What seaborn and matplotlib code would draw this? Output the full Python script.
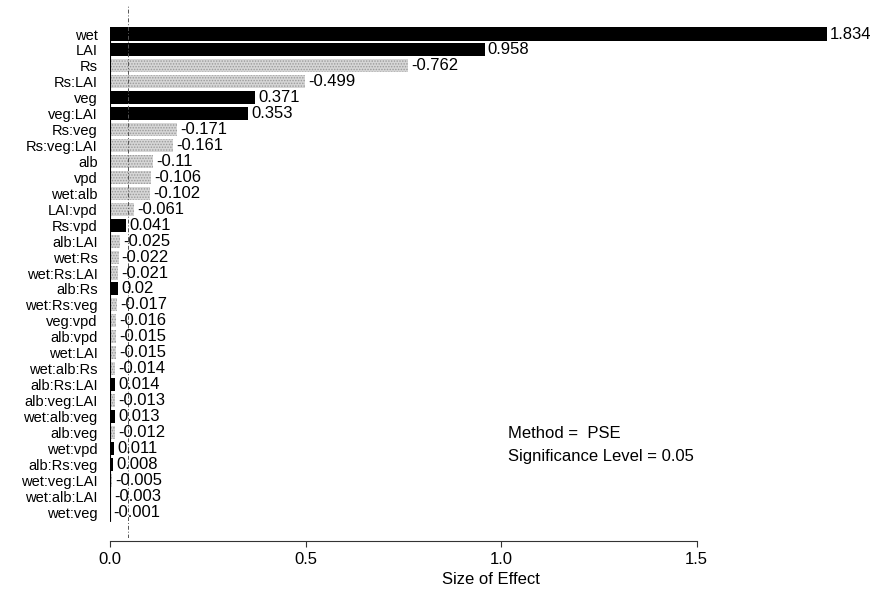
import matplotlib
matplotlib.use("Agg")
import matplotlib.pyplot as plt
import seaborn as sns
import pandas as pd
import numpy as np

terms = ["wet", "LAI", "Rs", "Rs:LAI", "veg", "veg:LAI", "Rs:veg", "Rs:veg:LAI",
         "alb", "vpd", "wet:alb", "LAI:vpd", "Rs:vpd", "alb:LAI", "wet:Rs",
         "wet:Rs:LAI", "alb:Rs", "wet:Rs:veg", "veg:vpd", "alb:vpd", "wet:LAI",
         "wet:alb:Rs", "alb:Rs:LAI", "alb:veg:LAI", "wet:alb:veg", "alb:veg",
         "wet:vpd", "alb:Rs:veg", "wet:veg:LAI", "wet:alb:LAI", "wet:veg"]
effects = [1.834, 0.958, -0.762, -0.499, 0.371, 0.353, -0.171, -0.161,
           -0.11, -0.106, -0.102, -0.061, 0.041, -0.025, -0.022,
           -0.021, 0.02, -0.017, -0.016, -0.015, -0.015,
           -0.014, 0.014, -0.013, 0.013, -0.012,
           0.011, 0.008, -0.005, -0.003, -0.001]
x_ticks = [0.0, 0.5, 1.0, 1.5]
sig_level = 0.046

sns.set_theme(style="white")
plt.rcParams["font.family"] = ["Liberation Sans", "DejaVu Sans"]
plt.rcParams["hatch.linewidth"] = 0.7
plt.rcParams["text.color"] = "black"
plt.rcParams["axes.labelcolor"] = "black"
plt.rcParams["xtick.color"] = "black"
plt.rcParams["ytick.color"] = "black"

df = pd.DataFrame({"term": terms, "effect": effects})
df["size"] = df["effect"].abs()
df["sign"] = np.where(df["effect"] >= 0, "pos", "neg")

FS = 12
fig = plt.figure(figsize=(8.74, 5.90), dpi=100)
W, H = 874, 590
ax = fig.add_axes([110 / W, 1 - 538 / H, 1.95 * 391 / W, (538 - 5) / H])

sns.barplot(data=df, x="size", y="term", hue="sign", order=terms,
            palette={"pos": "black", "neg": "#d6d6d6"}, orient="h",
            dodge=False, width=0.82, legend=False, ax=ax, linewidth=0)

for p in ax.patches:
    fc = p.get_facecolor()
    if fc[0] > 0.5:
        p.set_hatch("......")
        p.set_edgecolor("#9a9a9a")
        p.set_linewidth(0)

n = len(terms)
for i, v in enumerate(effects):
    ax.text(abs(v) + 0.008, i, str(v), va="center", ha="left", fontsize=FS,
            color="black", clip_on=False)

ax.set_xlim(0, 1.95)
ax.set_ylim(31.63, -1.82)
ax.plot([0, 0], [-0.45, n - 0.45], color="black", lw=0.8)
ax.axvline(sig_level, color="#555555", lw=0.7, ls=(0, (4, 2, 1, 2)))

for s in ["top", "right", "left"]:
    ax.spines[s].set_visible(False)
ax.spines["bottom"].set_position(("outward", 2))
ax.spines["bottom"].set_bounds(0, 1.5)
ax.spines["bottom"].set_color("#333333")
ax.spines["bottom"].set_linewidth(0.8)
ax.set_xticks(x_ticks)
ax.set_xticklabels([f"{t:.1f}" for t in x_ticks])
ax.tick_params(axis="x", bottom=True, length=4, width=0.8, color="#333333",
               labelcolor="black", labelsize=FS, pad=4)
ax.tick_params(axis="y", left=False, length=0, labelsize=10.5,
               labelcolor="black", pad=9)
ax.set_xlabel("Size of Effect", fontsize=FS, labelpad=4, color="black")
ax.set_ylabel("")

fig.text(508 / W, 1 - 434 / H, "Method =  PSE", fontsize=FS, va="center",
         ha="left", color="black")
fig.text(508 / W, 1 - 457 / H, "Significance Level = 0.05", fontsize=FS,
         va="center", ha="left", color="black")

fig.savefig("out.png", dpi=100)
